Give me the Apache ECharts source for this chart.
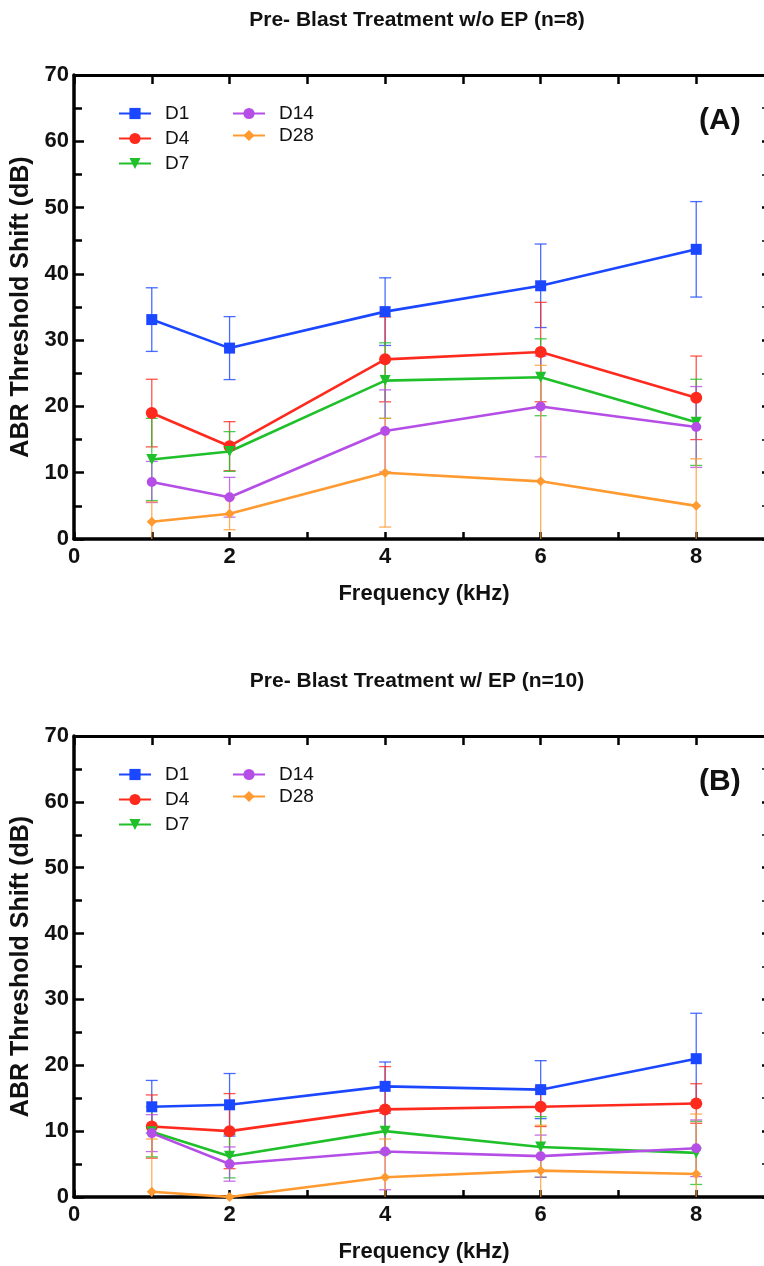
<!DOCTYPE html>
<html><head><meta charset="utf-8">
<script src="https://cdn.jsdelivr.net/npm/echarts@6/dist/echarts.min.js"></script>
<style>html,body{margin:0;padding:0;background:#fff}#c{width:764px;height:1266px}</style>
</head><body><div id="c"></div>
<script>
const freqs = [1, 2, 4, 6, 8];
const seriesNames = ['D1', 'D4', 'D7', 'D14', 'D28'];
const xTicks = ['0', '2', '4', '6', '8'];
const titles = ['Pre- Blast Treatment w/o EP (n=8)', 'Pre- Blast Treatment w/ EP (n=10)'];
const panelLabels = ['(A)', '(B)'];

// Panel A means and SEM
const a_D1 = [33.1, 28.8, 34.3, 38.2, 43.7];
const a_D1_err = [4.8, 4.75, 5.1, 6.3, 7.2];
const a_D4 = [19.0, 14.0, 27.1, 28.2, 21.3];
const a_D4_err = [5.1, 3.7, 6.4, 7.5, 6.3];
const a_D7 = [12.0, 13.2, 23.9, 24.4, 17.6];
const a_D7_err = [6.2, 3.0, 5.7, 5.8, 6.5];
const a_D14 = [8.6, 6.3, 16.3, 20.0, 16.9];
const a_D14_err = [3.1, 3.0, 6.2, 7.6, 6.1];
const a_D28 = [2.6, 3.8, 10.0, 8.7, 5.0];
const a_D28_err = [3.0, 2.4, 8.2, 17.5, 7.1];

// Panel B means and SEM
const b_D1 = [13.7, 14.0, 16.8, 16.3, 21.0];
const b_D1_err = [4.0, 4.75, 3.7, 4.4, 6.9];
const b_D4 = [10.7, 10.0, 13.3, 13.7, 14.2];
const b_D4_err = [4.8, 5.7, 6.5, 3.0, 3.0];
const b_D7 = [9.9, 6.2, 10.0, 7.6, 6.7];
const b_D7_err = [3.8, 3.3, 3.4, 4.6, 4.8];
const b_D14 = [9.7, 5.0, 6.9, 6.2, 7.4];
const b_D14_err = [2.8, 2.6, 5.8, 3.2, 4.3];
const b_D28 = [0.8, 0.0, 3.0, 4.0, 3.5];
const b_D28_err = [8.0, 0.0, 5.8, 6.9, 9.1];

const panelMeans = [[a_D1, a_D4, a_D7, a_D14, a_D28], [b_D1, b_D4, b_D7, b_D14, b_D28]];
const panelErrs = [[a_D1_err, a_D4_err, a_D7_err, a_D14_err, a_D28_err], [b_D1_err, b_D4_err, b_D7_err, b_D14_err, b_D28_err]];

const colors = ['#1a47ff', '#ff2a1e', '#1fc02a', '#b44ee6', '#ff9a30'];
const symbols = ['rect', 'circle', 'triangle', 'circle', 'diamond'];
const symbolSizes = [11, 12, 11, 10, 10];
const symbolRot = [0, 0, 180, 0, 0];

const FONT = 'Liberation Sans, Arial, sans-serif';
const gridTops = [75, 736];
const gridH = [464, 461];
const gridLeft = 74;
const gridW = 700;

const chart = echarts.init(document.getElementById('c'), null, {renderer: 'canvas'});

const option = {
  animation: false,
  backgroundColor: '#fff',
  color: colors,
  title: [], grid: [], xAxis: [], yAxis: [], series: [], legend: [], graphic: []
};

for (let p = 0; p < 2; p++) {
  option.title.push({
    text: titles[p], left: 412, top: gridTops[p] - 70, textAlign: 'center',
    textStyle: {fontFamily: FONT, fontWeight: 'bold', fontSize: 21, color: '#111'}
  });
  option.grid.push({left: gridLeft, top: gridTops[p], width: gridW, height: gridH[p],
    containLabel: false, outerBoundsMode: 'none'});
  // bottom x axis
  option.xAxis.push({
    type: 'value', gridIndex: p, min: 0, max: 9, interval: 1, position: 'bottom',
    name: 'Frequency (kHz)', nameLocation: 'middle', nameGap: 44,
    nameTextStyle: {fontFamily: FONT, fontWeight: 'bold', fontSize: 22, color: '#111'},
    axisLine: {show: true, onZero: false, lineStyle: {color: '#000', width: 3.5}},
    axisTick: {show: true, inside: true, length: 7, lineStyle: {color: '#000', width: 2.5}},
    axisLabel: {
      margin: 7, fontFamily: FONT, fontWeight: 'bold', fontSize: 22, color: '#111',
      formatter: v => (xTicks.indexOf(String(v)) >= 0 ? String(v) : '')
    },
    splitLine: {show: false}
  });
  // top x axis (box)
  option.xAxis.push({
    type: 'value', gridIndex: p, min: 0, max: 9, interval: 1, position: 'top',
    axisLine: {show: true, onZero: false, lineStyle: {color: '#000', width: 3}},
    axisTick: {show: true, inside: true, length: 9, lineStyle: {color: '#000', width: 2.5}},
    axisLabel: {show: false}, splitLine: {show: false}
  });
  // left y axis
  option.yAxis.push({
    type: 'value', gridIndex: p, min: 0, max: 70, interval: 10, position: 'left',
    name: 'ABR Threshold Shift (dB)', nameLocation: 'middle', nameGap: 37,
    nameTextStyle: {fontFamily: FONT, fontWeight: 'bold', fontSize: 25, color: '#111'},
    axisLine: {show: true, onZero: false, lineStyle: {color: '#000', width: 3.5}},
    axisTick: {show: true, inside: true, length: 10, lineStyle: {color: '#000', width: 2.5}},
    minorTick: {show: true, splitNumber: 2, length: 8, lineStyle: {color: '#000', width: 2.5}},
    axisLabel: {inside: false, margin: 5, fontFamily: FONT, fontWeight: 'bold', fontSize: 22, color: '#111'},
    splitLine: {show: false}, minorSplitLine: {show: false}
  });
  // right y axis (box, mostly off-canvas)
  option.yAxis.push({
    type: 'value', gridIndex: p, min: 0, max: 70, interval: 10, position: 'right',
    axisLine: {show: true, onZero: false, lineStyle: {color: '#000', width: 3}},
    axisTick: {show: true, inside: true, length: 12, lineStyle: {color: '#000', width: 2.5}},
    minorTick: {show: true, splitNumber: 2, length: 12, lineStyle: {color: '#000', width: 1.5}},
    axisLabel: {show: false}, splitLine: {show: false}
  });

  const xi = p * 2, yi = p * 2;
  for (let s = 0; s < seriesNames.length; s++) {
    const means = panelMeans[p][s], errs = panelErrs[p][s];
    const col = colors[s];
    option.series.push({
      type: 'custom', name: seriesNames[s] + ' SEM', xAxisIndex: xi, yAxisIndex: yi, z: 2,
      silent: true, clip: true,
      data: freqs.map((f, i) => [f, means[i], errs[i]]),
      renderItem: function (params, api) {
        const x = api.value(0), m = api.value(1), e = api.value(2);
        if (!(e > 0)) return null;
        const hiV = Math.min(70, m + e), loV = Math.max(0, m - e);
        const hi = api.coord([x, hiV]), lo = api.coord([x, loV]);
        const cw = 6;
        const st = {stroke: col, lineWidth: 1.3, opacity: 0.8};
        const children = [{type: 'line', shape: {x1: hi[0], y1: hi[1], x2: lo[0], y2: lo[1]}, style: st}];
        children.push({type: 'line', shape: {x1: hi[0] - cw, y1: hi[1], x2: hi[0] + cw, y2: hi[1]}, style: st});
        if (m - e > 0) children.push({type: 'line', shape: {x1: lo[0] - cw, y1: lo[1], x2: lo[0] + cw, y2: lo[1]}, style: st});
        return {type: 'group', children: children};
      }
    });
    option.series.push({
      type: 'line', name: seriesNames[s], xAxisIndex: xi, yAxisIndex: yi, z: 3,
      data: freqs.map((f, i) => [f, means[i]]),
      symbol: symbols[s], symbolSize: symbolSizes[s], symbolRotate: symbolRot[s],
      showAllSymbol: true, clip: false,
      itemStyle: {color: col, borderWidth: 0},
      lineStyle: {color: col, width: 2.6}
    });
  }

  option.legend.push({
    data: seriesNames.slice(0, 3), orient: 'vertical',
    left: 113, top: gridTops[p] + 24, itemWidth: 32, itemHeight: 14, itemGap: 6,
    selectedMode: false,
    textStyle: {fontFamily: FONT, fontSize: 19, color: '#111', padding: [0, 0, 0, 9]}
  });
  option.legend.push({
    data: seriesNames.slice(3), orient: 'vertical',
    left: 227, top: gridTops[p] + 24, itemWidth: 32, itemHeight: 14, itemGap: 3,
    selectedMode: false,
    textStyle: {fontFamily: FONT, fontSize: 19, color: '#111', padding: [0, 0, 0, 9]}
  });
  option.graphic.push({
    type: 'text', left: 699, top: gridTops[p] + 31,
    style: {text: panelLabels[p], font: 'bold 30px ' + FONT, fill: '#111'}
  });
}

chart.setOption(option);
</script>
</body></html>
